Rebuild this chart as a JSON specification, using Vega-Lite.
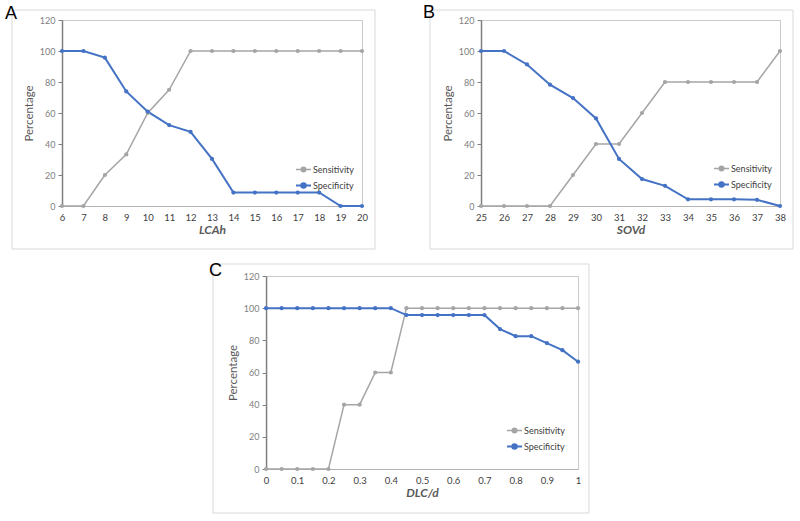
{
  "$schema": "https://vega.github.io/schema/vega-lite/v6.json",
  "autosize": {"type": "none"},
  "padding": {"left": 62, "top": 20, "right": 738, "bottom": 501},
  "background": "white",
  "config": {
    "font": "Lato",
    "view": {"stroke": "#c9c9c9", "strokeWidth": 1},
    "axisY": {"domainColor": "#808080", "domainWidth": 1.5, "tickColor": "#808080", "tickSize": 4, "tickWidth": 1, "labelFont": "Lato", "labelFontSize": 9, "labelColor": "#808080", "labelPadding": 3, "grid": false, "labelFlush": false, "labelOverlap": false, "titleFont": "Lato", "titleFontSize": 11.5, "titleFontWeight": "normal", "titleColor": "#595959", "minExtent": 20, "maxExtent": 20, "titlePadding": 8},
    "axisX": {"domainColor": "#b3b3b3", "domainWidth": 1, "ticks": false, "labelFont": "Lato", "labelFontSize": 9.5, "labelColor": "#404040", "labelPadding": 6, "grid": false, "labelFlush": false, "labelOverlap": false, "titleFont": "Lato", "titleFontSize": 12, "titleFontStyle": "italic", "titleFontWeight": "bold", "titleColor": "#595959", "titlePadding": 3},
    "legend": {"orient": "none", "title": null, "symbolType": "M-1,0H1M-0.3,0A0.3,0.3,0,1,1,0.3,0A0.3,0.3,0,1,1,-0.3,0", "symbolSize": 225, "symbolStrokeWidth": 1.5, "labelFont": "Lato", "labelFontSize": 9, "labelColor": "#404040", "labelOffset": 1, "rowPadding": 2, "padding": 0},
    "title": {"anchor": "start", "frame": "group", "offset": 0, "baseline": "alphabetic", "font": "Liberation Sans", "fontSize": 18, "fontWeight": "normal", "color": "black"}
  },
  "datasets": {
    "A": [
      {"x": 6, "series": "Sensitivity", "value": 0}, {"x": 7, "series": "Sensitivity", "value": 0}, {"x": 8, "series": "Sensitivity", "value": 20}, {"x": 9, "series": "Sensitivity", "value": 33.3}, {"x": 10, "series": "Sensitivity", "value": 60}, {"x": 11, "series": "Sensitivity", "value": 75}, {"x": 12, "series": "Sensitivity", "value": 100}, {"x": 13, "series": "Sensitivity", "value": 100}, {"x": 14, "series": "Sensitivity", "value": 100}, {"x": 15, "series": "Sensitivity", "value": 100}, {"x": 16, "series": "Sensitivity", "value": 100}, {"x": 17, "series": "Sensitivity", "value": 100}, {"x": 18, "series": "Sensitivity", "value": 100}, {"x": 19, "series": "Sensitivity", "value": 100}, {"x": 20, "series": "Sensitivity", "value": 100},
      {"x": 6, "series": "Specificity", "value": 100}, {"x": 7, "series": "Specificity", "value": 100}, {"x": 8, "series": "Specificity", "value": 95.7}, {"x": 9, "series": "Specificity", "value": 73.9}, {"x": 10, "series": "Specificity", "value": 60.9}, {"x": 11, "series": "Specificity", "value": 52.2}, {"x": 12, "series": "Specificity", "value": 47.8}, {"x": 13, "series": "Specificity", "value": 30.4}, {"x": 14, "series": "Specificity", "value": 8.7}, {"x": 15, "series": "Specificity", "value": 8.7}, {"x": 16, "series": "Specificity", "value": 8.7}, {"x": 17, "series": "Specificity", "value": 8.7}, {"x": 18, "series": "Specificity", "value": 8.7}, {"x": 19, "series": "Specificity", "value": 0}, {"x": 20, "series": "Specificity", "value": 0}
    ],
    "B": [
      {"x": 25, "series": "Sensitivity", "value": 0}, {"x": 26, "series": "Sensitivity", "value": 0}, {"x": 27, "series": "Sensitivity", "value": 0}, {"x": 28, "series": "Sensitivity", "value": 0}, {"x": 29, "series": "Sensitivity", "value": 20}, {"x": 30, "series": "Sensitivity", "value": 40}, {"x": 31, "series": "Sensitivity", "value": 40}, {"x": 32, "series": "Sensitivity", "value": 60}, {"x": 33, "series": "Sensitivity", "value": 80}, {"x": 34, "series": "Sensitivity", "value": 80}, {"x": 35, "series": "Sensitivity", "value": 80}, {"x": 36, "series": "Sensitivity", "value": 80}, {"x": 37, "series": "Sensitivity", "value": 80}, {"x": 38, "series": "Sensitivity", "value": 100},
      {"x": 25, "series": "Specificity", "value": 100}, {"x": 26, "series": "Specificity", "value": 100}, {"x": 27, "series": "Specificity", "value": 91.3}, {"x": 28, "series": "Specificity", "value": 78.3}, {"x": 29, "series": "Specificity", "value": 69.6}, {"x": 30, "series": "Specificity", "value": 56.5}, {"x": 31, "series": "Specificity", "value": 30.4}, {"x": 32, "series": "Specificity", "value": 17.4}, {"x": 33, "series": "Specificity", "value": 13}, {"x": 34, "series": "Specificity", "value": 4.3}, {"x": 35, "series": "Specificity", "value": 4.3}, {"x": 36, "series": "Specificity", "value": 4.3}, {"x": 37, "series": "Specificity", "value": 4}, {"x": 38, "series": "Specificity", "value": 0}
    ],
    "C": [
      {"x": 0, "series": "Sensitivity", "value": 0}, {"x": 0.05, "series": "Sensitivity", "value": 0}, {"x": 0.1, "series": "Sensitivity", "value": 0}, {"x": 0.15, "series": "Sensitivity", "value": 0}, {"x": 0.2, "series": "Sensitivity", "value": 0}, {"x": 0.25, "series": "Sensitivity", "value": 40}, {"x": 0.3, "series": "Sensitivity", "value": 40}, {"x": 0.35, "series": "Sensitivity", "value": 60}, {"x": 0.4, "series": "Sensitivity", "value": 60}, {"x": 0.45, "series": "Sensitivity", "value": 100}, {"x": 0.5, "series": "Sensitivity", "value": 100}, {"x": 0.55, "series": "Sensitivity", "value": 100}, {"x": 0.6, "series": "Sensitivity", "value": 100}, {"x": 0.65, "series": "Sensitivity", "value": 100}, {"x": 0.7, "series": "Sensitivity", "value": 100}, {"x": 0.75, "series": "Sensitivity", "value": 100}, {"x": 0.8, "series": "Sensitivity", "value": 100}, {"x": 0.85, "series": "Sensitivity", "value": 100}, {"x": 0.9, "series": "Sensitivity", "value": 100}, {"x": 0.95, "series": "Sensitivity", "value": 100}, {"x": 1, "series": "Sensitivity", "value": 100},
      {"x": 0, "series": "Specificity", "value": 100}, {"x": 0.05, "series": "Specificity", "value": 100}, {"x": 0.1, "series": "Specificity", "value": 100}, {"x": 0.15, "series": "Specificity", "value": 100}, {"x": 0.2, "series": "Specificity", "value": 100}, {"x": 0.25, "series": "Specificity", "value": 100}, {"x": 0.3, "series": "Specificity", "value": 100}, {"x": 0.35, "series": "Specificity", "value": 100}, {"x": 0.4, "series": "Specificity", "value": 100}, {"x": 0.45, "series": "Specificity", "value": 95.7}, {"x": 0.5, "series": "Specificity", "value": 95.7}, {"x": 0.55, "series": "Specificity", "value": 95.7}, {"x": 0.6, "series": "Specificity", "value": 95.7}, {"x": 0.65, "series": "Specificity", "value": 95.7}, {"x": 0.7, "series": "Specificity", "value": 95.7}, {"x": 0.75, "series": "Specificity", "value": 87}, {"x": 0.8, "series": "Specificity", "value": 82.6}, {"x": 0.85, "series": "Specificity", "value": 82.6}, {"x": 0.9, "series": "Specificity", "value": 78.3}, {"x": 0.95, "series": "Specificity", "value": 73.9}, {"x": 1, "series": "Specificity", "value": 66.7}
    ]
  },
  "spacing": 11,
  "bounds": "full",
  "center": true,
  "resolve": {"scale": {"x": "independent", "y": "independent", "color": "independent", "strokeWidth": "independent"}, "legend": {"color": "independent"}},
  "vconcat": [
    {
      "spacing": 119,
      "bounds": "flush",
      "resolve": {"scale": {"x": "independent", "y": "independent", "color": "independent", "strokeWidth": "independent"}, "legend": {"color": "independent"}},
      "hconcat": [
        {
          "width": 300, "height": 186,
          "title": {"text": "A", "dx": -57, "dy": 17},
          "layer": [
            {
              "data": {"name": "A"},
              "mark": {"type": "line", "point": {"filled": true, "size": 18}},
              "encoding": {
                "x": {"field": "x", "type": "quantitative", "scale": {"domain": [6, 20], "nice": false, "zero": false}, "axis": {"values": [6, 7, 8, 9, 10, 11, 12, 13, 14, 15, 16, 17, 18, 19, 20], "format": "d", "labelOverlap": false, "title": "LCAh"}},
                "y": {"field": "value", "type": "quantitative", "scale": {"domain": [0, 120], "nice": false}, "axis": {"values": [0, 20, 40, 60, 80, 100, 120], "labelOverlap": false, "title": "Percentage"}},
                "color": {"field": "series", "type": "nominal", "scale": {"domain": ["Sensitivity", "Specificity"], "range": ["#a5a5a5", "#4472c4"]}, "legend": {"legendX": 233, "legendY": 141, "encode": {"symbols": {"update": {"fill": {"signal": "datum.value === 'Sensitivity' ? '#a5a5a5' : '#4472c4'"}}}}}},
                "strokeWidth": {"field": "series", "type": "nominal", "scale": {"domain": ["Sensitivity", "Specificity"], "range": [1.5, 2]}, "legend": null}
              }
            },
            {
              "data": {"values": [{}]},
              "mark": {"type": "rect", "fill": null, "stroke": "#d9d9d9", "strokeWidth": 1, "clip": false},
              "encoding": {
                "x": {"datum": 3.667, "type": "quantitative", "scale": {"domain": [6, 20], "nice": false, "zero": false}, "axis": {"values": [6, 7, 8, 9, 10, 11, 12, 13, 14, 15, 16, 17, 18, 19, 20], "format": "d", "labelOverlap": false, "title": "LCAh"}},
                "x2": {"datum": 20.607},
                "y": {"datum": 126.45, "type": "quantitative", "scale": {"domain": [0, 120], "nice": false}, "axis": {"values": [0, 20, 40, 60, 80, 100, 120], "labelOverlap": false, "title": "Percentage"}},
                "y2": {"datum": -27.74}
              }
            }
          ]
        },
        {
          "width": 299, "height": 186,
          "title": {"text": "B", "dx": -58, "dy": 16},
          "layer": [
            {
              "data": {"name": "B"},
              "mark": {"type": "line", "point": {"filled": true, "size": 18}},
              "encoding": {
                "x": {"field": "x", "type": "quantitative", "scale": {"domain": [25, 38], "nice": false, "zero": false}, "axis": {"values": [25, 26, 27, 28, 29, 30, 31, 32, 33, 34, 35, 36, 37, 38], "format": "d", "labelOverlap": false, "title": "SOVd"}},
                "y": {"field": "value", "type": "quantitative", "scale": {"domain": [0, 120], "nice": false}, "axis": {"values": [0, 20, 40, 60, 80, 100, 120], "labelOverlap": false, "title": "Percentage"}},
                "color": {"field": "series", "type": "nominal", "scale": {"domain": ["Sensitivity", "Specificity"], "range": ["#a5a5a5", "#4472c4"]}, "legend": {"legendX": 232, "legendY": 140, "encode": {"symbols": {"update": {"fill": {"signal": "datum.value === 'Sensitivity' ? '#a5a5a5' : '#4472c4'"}}}}}},
                "strokeWidth": {"field": "series", "type": "nominal", "scale": {"domain": ["Sensitivity", "Specificity"], "range": [1.5, 2]}, "legend": null}
              }
            },
            {
              "data": {"values": [{}]},
              "mark": {"type": "rect", "fill": null, "stroke": "#d9d9d9", "strokeWidth": 1, "clip": false},
              "encoding": {
                "x": {"datum": 22.783, "type": "quantitative", "scale": {"domain": [25, 38], "nice": false, "zero": false}, "axis": {"values": [25, 26, 27, 28, 29, 30, 31, 32, 33, 34, 35, 36, 37, 38], "format": "d", "labelOverlap": false, "title": "SOVd"}},
                "x2": {"datum": 38.565},
                "y": {"datum": 126.45, "type": "quantitative", "scale": {"domain": [0, 120], "nice": false}, "axis": {"values": [0, 20, 40, 60, 80, 100, 120], "labelOverlap": false, "title": "Percentage"}},
                "y2": {"datum": -27.74}
              }
            }
          ]
        }
      ]
    },
    {
      "width": 312, "height": 193,
      "title": {"text": "C", "dx": -57, "dy": 20},
      "layer": [
        {
          "data": {"name": "C"},
          "mark": {"type": "line", "point": {"filled": true, "size": 18}},
          "encoding": {
            "x": {"field": "x", "type": "quantitative", "scale": {"domain": [0, 1], "nice": false, "zero": false}, "axis": {"values": [0, 0.1, 0.2, 0.3, 0.4, 0.5, 0.6, 0.7, 0.8, 0.9, 1], "format": "~g", "labelOverlap": false, "title": "DLC/d"}},
            "y": {"field": "value", "type": "quantitative", "scale": {"domain": [0, 120], "nice": false}, "axis": {"values": [0, 20, 40, 60, 80, 100, 120], "labelOverlap": false, "title": "Percentage"}},
            "color": {"field": "series", "type": "nominal", "scale": {"domain": ["Sensitivity", "Specificity"], "range": ["#a5a5a5", "#4472c4"]}, "legend": {"legendX": 240, "legendY": 146, "encode": {"symbols": {"update": {"fill": {"signal": "datum.value === 'Sensitivity' ? '#a5a5a5' : '#4472c4'"}}}}}},
            "strokeWidth": {"field": "series", "type": "nominal", "scale": {"domain": ["Sensitivity", "Specificity"], "range": [1.5, 2]}, "legend": null}
          }
        },
        {
          "data": {"values": [{}]},
          "mark": {"type": "rect", "fill": null, "stroke": "#d9d9d9", "strokeWidth": 1, "clip": false},
          "encoding": {
            "x": {"datum": -0.17, "type": "quantitative", "scale": {"domain": [0, 1], "nice": false, "zero": false}, "axis": {"values": [0, 0.1, 0.2, 0.3, 0.4, 0.5, 0.6, 0.7, 0.8, 0.9, 1], "format": "~g", "labelOverlap": false, "title": "DLC/d"}},
            "x2": {"datum": 1.035},
            "y": {"datum": 127.46, "type": "quantitative", "scale": {"domain": [0, 120], "nice": false}, "axis": {"values": [0, 20, 40, 60, 80, 100, 120], "labelOverlap": false, "title": "Percentage"}},
            "y2": {"datum": -27.36}
          }
        }
      ]
    }
  ]
}
